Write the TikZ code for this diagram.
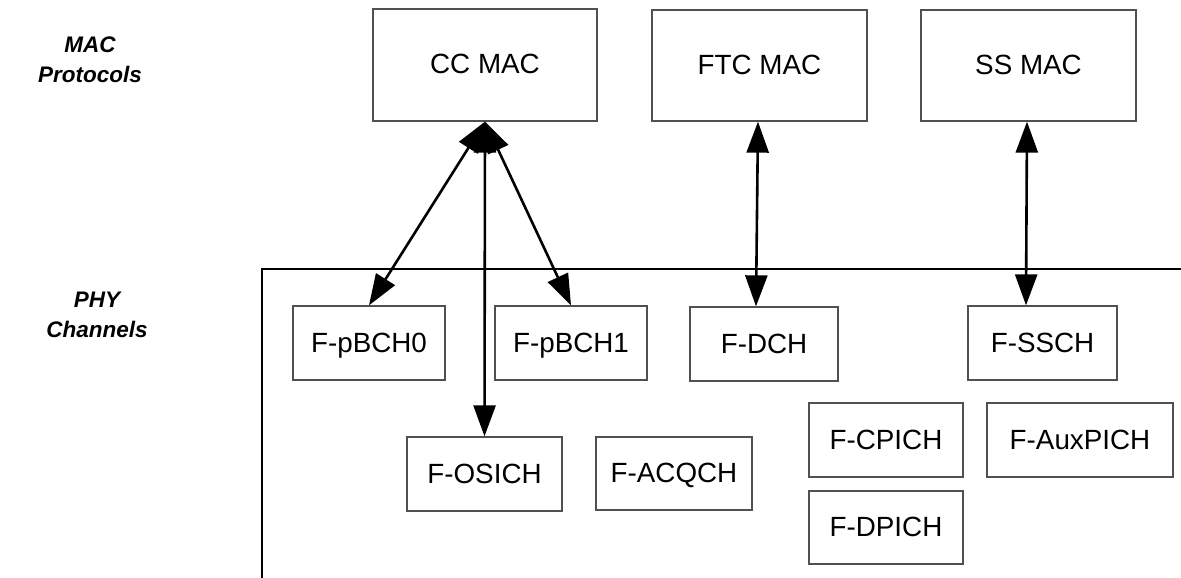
\documentclass[tikz,border=0pt]{standalone}
\usepackage{fontspec}
\setmainfont{Liberation Sans}
\usetikzlibrary{arrows.meta}
\definecolor{boxgray}{HTML}{505050}
\tikzset{
  box/.style={draw=boxgray, line width=1.3pt, inner sep=0pt, text height=20pt, text depth=2pt, font=\fontsize{27.8}{33}\selectfont},
  maclabel/.style={align=center, inner sep=0pt, font=\bfseries\itshape\fontsize{22.5}{30}\selectfont},
  link/.style={line width=2.6pt, {Triangle[length=31pt,width=22pt]}-{Triangle[length=31pt,width=22pt]}},
  frameline/.style={line width=1.1pt}
}
\begin{document}
\begin{tikzpicture}[x=1pt,y=-1pt]
\useasboundingbox (0,0) rectangle (1181,578);
% labels
\node[maclabel] (lmac) at (90,60) {MAC\\Protocols};
\node[maclabel] (lphy) at (97,315) {PHY\\Channels};
% frame
\coordinate (fr1) at (1181,269);
\coordinate (fr2) at (262,269);
\coordinate (fr3) at (262,578);
\draw[frameline] (fr1) -- (fr2) -- (fr3);
% MAC boxes
\node[box, minimum width=224pt, minimum height=112pt] (cc) at (485,65) {CC MAC};
\node[box, minimum width=215pt, minimum height=111pt] (ftc) at (759.5,65.5) {FTC MAC};
\node[box, minimum width=215pt, minimum height=111pt] (ss) at (1028.5,65.5) {SS MAC};
% PHY boxes
\node[box, minimum width=152pt, minimum height=74pt] (pb0) at (369,343) {F-pBCH0};
\node[box, minimum width=152pt, minimum height=74pt] (pb1) at (571,343) {F-pBCH1};
\node[box, minimum width=155pt, minimum height=74pt] (osi) at (484.5,474) {F-OSICH};
\node[box, minimum width=156pt, minimum height=73pt] (acq) at (674,473.5) {F-ACQCH};
\node[box, minimum width=148pt, minimum height=74pt] (dch) at (764,344) {F-DCH};
\node[box, minimum width=149pt, minimum height=74pt] (ssch) at (1042.5,343) {F-SSCH};
\node[box, minimum width=154pt, minimum height=74pt] (cpi) at (886,440) {F-CPICH};
\node[box, minimum width=186pt, minimum height=74pt] (aux) at (1080,440) {F-AuxPICH};
\node[box, minimum width=154pt, minimum height=73pt] (dpi) at (886,527.5) {F-DPICH};
% connectors
\draw[link] (cc.south) -- (pb0.north);
\draw[link] (cc.south) -- (pb1.north);
\draw[link] (cc.south) -- (osi.north);
\draw[link] ([xshift=-1.5pt]ftc.south) -- ([xshift=-8pt]dch.north);
\draw[link] ([xshift=-1.5pt]ss.south) -- ([xshift=-16.5pt]ssch.north);
\end{tikzpicture}
\end{document}
